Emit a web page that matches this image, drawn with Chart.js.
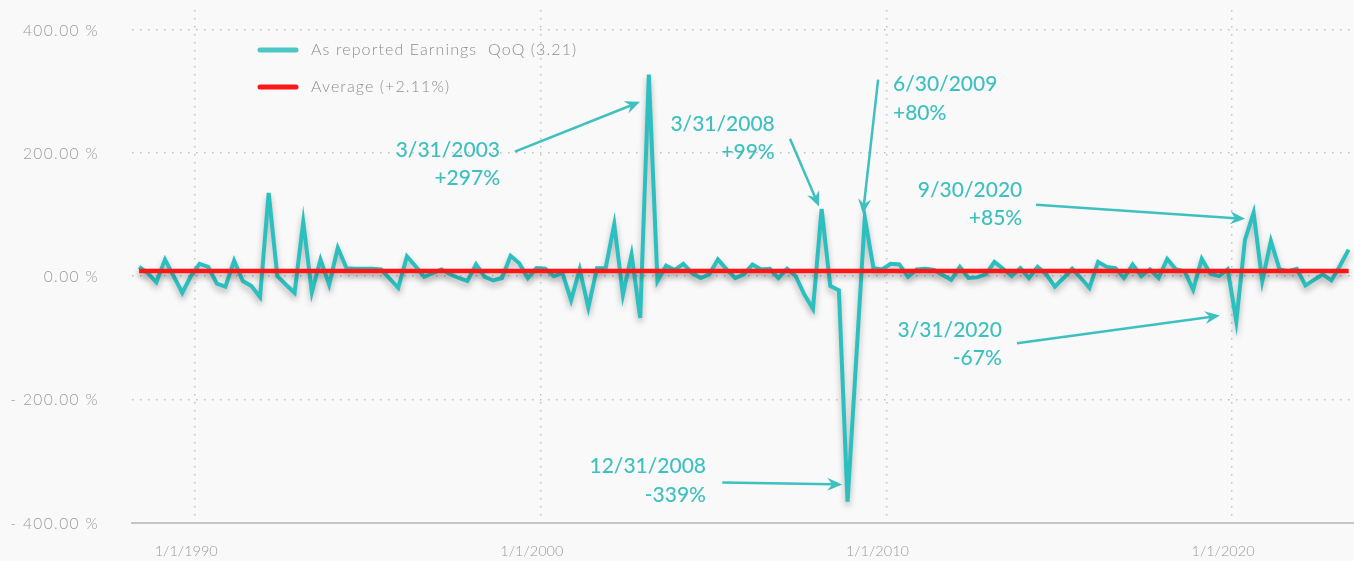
<!DOCTYPE html>
<html>
<head>
    <title>As reported Earnings QoQ</title>
    <style>
        body { margin: 0; background: #f9f9f9; }
        #chartWrap { width: 1354px; height: 561px; }
    </style>
    <script src="https://cdn.jsdelivr.net/npm/chart.js"></script>
</head>
<body>
<div id="chartWrap"><canvas id="earningsChart" width="1354" height="561"></canvas></div>
<script>
// quarterly series, first value is Q2 1988
const startYear = 1988;
const startQuarter = 2;
const earningsQoQ = [
    15, 5, -10, 27, 0, -27, 0, 20, 15, -12,
    -17, 25, -8, -16, -34, 135, 0, -14, -27, 88,
    -26, 27, -14, 46, 13, 12, 12, 12, 11, -4,
    -19, 32, 16, -1, 5, 11, 3, -3, -8, 19,
    -1, -7, -3, 33, 21, -3, 13, 12, 0, 5,
    -39, 11, -51, 13, 13, 84, -30, 35, -68, 327,
    -8, 17, 10, 20, 5, -3, 3, 27, 11, -3,
    3, 19, 11, 12, -3, 12, 0, -30, -53, 109,
    -16, -23, -366, -136, 95, 13, 11, 20, 19, -1,
    11, 12, 10, 2, -6, 15, -3, -2, 3, 23,
    12, 0, 13, -3, 15, 3, -17, -3, 12, -3,
    -19, 23, 15, 13, -3, 19, 0, 11, -3, 28,
    11, 8, -22, 28, 4, 0, 11, -73, 59, 103,
    -8, 57, 11, 8, 12, -15, -6, 3, -7, 17,
    43
];
const averageValue = 8.5;
const yTickValues = [-400, -200, 0, 200, 400];
const xTickYears = [1990, 2000, 2010, 2020];
const seriesLabels = ['As reported Earnings  QoQ (3.21)', 'Average (+2.11%)'];

// callouts: text anchor and arrow ends in chart units (year, %)
const callouts = [
    { lines: ['3/31/2003', '+297%'], align: 'right', at: [1998.82, 205], from: [1999.25, 202], to: [2002.87, 283] },
    { lines: ['3/31/2008', '+99%'], align: 'right', at: [2006.77, 247], from: [2007.21, 223], to: [2008.05, 113] },
    { lines: ['6/30/2009', '+80%'], align: 'left', at: [2010.19, 311], from: [2009.76, 319], to: [2009.32, 101] },
    { lines: ['9/30/2020', '+85%'], align: 'right', at: [2013.93, 140], from: [2014.33, 116], to: [2020.38, 93] },
    { lines: ['3/31/2020', '-67%'], align: 'right', at: [2013.34, -87], from: [2013.78, -109], to: [2019.65, -64] },
    { lines: ['12/31/2008', '-339%'], align: 'right', at: [2004.78, -309], from: [2005.25, -335], to: [2008.72, -338] }
];

const teal = '#2cbfbf';
const tealText = '#3fc0c0';
const red = '#ff1616';
const grey = '#9a9a9a';

const points = earningsQoQ.map((v, i) => ({
    x: startYear + (startQuarter - 1) * 0.25 + 0.125 + i * 0.25,
    y: v
}));
const avgPoints = [
    { x: points[0].x, y: averageValue },
    { x: points[points.length - 1].x, y: averageValue }
];

const shadowPlugin = {
    id: 'lineShadow',
    beforeDatasetsDraw(chart) {
        const ctx = chart.ctx;
        ctx.save();
        ctx.shadowColor = 'rgba(0,0,0,0.28)';
        ctx.shadowBlur = 6;
        ctx.shadowOffsetY = 4;
    },
    afterDatasetsDraw(chart) {
        chart.ctx.restore();
    }
};

function drawArrow(ctx, x1, y1, x2, y2) {
    const ang = Math.atan2(y2 - y1, x2 - x1);
    const len = 15, half = 6.5, notch = 10;
    ctx.beginPath();
    ctx.moveTo(x1, y1);
    ctx.lineTo(x2 - Math.cos(ang) * notch, y2 - Math.sin(ang) * notch);
    ctx.stroke();
    const bx = x2 - Math.cos(ang) * len, by = y2 - Math.sin(ang) * len;
    const nx = x2 - Math.cos(ang) * notch, ny = y2 - Math.sin(ang) * notch;
    ctx.beginPath();
    ctx.moveTo(x2, y2);
    ctx.lineTo(bx + Math.sin(ang) * half, by - Math.cos(ang) * half);
    ctx.lineTo(nx, ny);
    ctx.lineTo(bx - Math.sin(ang) * half, by + Math.cos(ang) * half);
    ctx.closePath();
    ctx.fill();
}

const overlayPlugin = {
    id: 'overlay',
    afterDraw(chart) {
        const ctx = chart.ctx;
        const xs = chart.scales.x, ys = chart.scales.y;
        ctx.save();

        // y axis labels, right aligned
        ctx.font = '300 15.5px Lato';
        ctx.letterSpacing = '1.4px';
        ctx.fillStyle = grey;
        ctx.textAlign = 'right';
        ctx.textBaseline = 'middle';
        yTickValues.forEach(v => {
            const txt = (v < 0 ? '- ' : '') + Math.abs(v).toFixed(2) + ' %';
            ctx.fillText(txt, 99, ys.getPixelForValue(v) + 1);
        });

        // legend
        const legendColors = ['#4cc5c5', red];
        ctx.font = '300 16px Lato';
        ctx.letterSpacing = '1.1px';
        ctx.textAlign = 'left';
        seriesLabels.forEach((label, i) => {
            const y = 50 + i * 37;
            ctx.strokeStyle = legendColors[i];
            ctx.lineWidth = 5;
            ctx.lineCap = 'round';
            ctx.beginPath();
            ctx.moveTo(260, y);
            ctx.lineTo(296, y);
            ctx.stroke();
            ctx.fillStyle = '#8e8e8e';
            ctx.fillText(label, 311, y);
        });

        // callouts
        ctx.letterSpacing = '0px';
        ctx.lineCap = 'butt';
        ctx.strokeStyle = tealText;
        ctx.fillStyle = tealText;
        ctx.lineWidth = 2.5;
        callouts.forEach(c => {
            drawArrow(ctx,
                xs.getPixelForValue(c.from[0]), ys.getPixelForValue(c.from[1]),
                xs.getPixelForValue(c.to[0]), ys.getPixelForValue(c.to[1]));
            ctx.font = '500 21px Lato';
            ctx.textAlign = c.align;
            const tx = xs.getPixelForValue(c.at[0]);
            const ty = ys.getPixelForValue(c.at[1]);
            c.lines.forEach((line, k) => ctx.fillText(line, tx, ty + k * 28.5));
        });
        ctx.restore();
    }
};

Chart.defaults.font.family = 'Lato';

new Chart(document.getElementById('earningsChart'), {
    type: 'line',
    data: {
        datasets: [
            {
                label: seriesLabels[1],
                data: avgPoints,
                borderColor: red,
                borderWidth: 4.5,
                pointRadius: 0,
                order: 0
            },
            {
                label: seriesLabels[0],
                data: points,
                borderColor: teal,
                borderWidth: 4,
                pointRadius: 0,
                tension: 0,
                order: 1
            }
        ]
    },
    options: {
        responsive: false,
        animation: false,
        layout: { padding: { top: 10, right: 0, left: 0, bottom: 0 } },
        plugins: {
            legend: { display: false },
            tooltip: { enabled: false }
        },
        scales: {
            x: {
                type: 'linear',
                min: 1988.17,
                max: 2023.53,
                afterFit: s => { s.height = 38.4; },
                afterBuildTicks: s => { s.ticks = xTickYears.map(v => ({ value: v })); },
                grid: { color: '#c2c2c2', lineWidth: 1.5, drawTicks: false },
                border: { display: true, color: '#c6c6c6', width: 2, dash: [1.5, 6.5] },
                ticks: {
                    color: grey,
                    font: { size: 14.5, weight: 300 },
                    padding: 20,
                    labelOffset: -9,
                    maxRotation: 0,
                    callback: v => '1/1/' + v
                }
            },
            y: {
                min: -400,
                max: 432,
                afterFit: s => { s.width = 132; },
                afterBuildTicks: s => { s.ticks = yTickValues.map(v => ({ value: v })); },
                grid: {
                    color: ctx => ctx.tick && ctx.tick.value === -400 ? 'rgba(0,0,0,0)' : '#c2c2c2',
                    lineWidth: 1.5,
                    drawTicks: false
                },
                border: { display: false, dash: [1.5, 6.5] },
                ticks: { display: false }
            }
        }
    },
    plugins: [shadowPlugin, overlayPlugin]
});
</script>
</body>
</html>
